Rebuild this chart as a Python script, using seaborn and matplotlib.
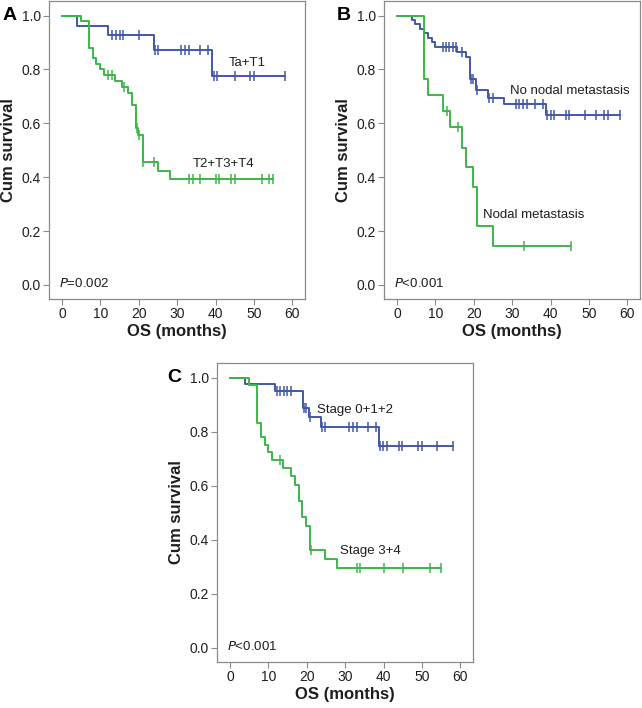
import numpy as np
import pandas as pd
import matplotlib
matplotlib.use('Agg')
import matplotlib.pyplot as plt
import matplotlib.transforms as mtransforms
import seaborn as sns

# Kaplan-Meier steps (event times, survival after event, censor times)
a_t1_times = [0, 4, 12, 24, 39]
a_t1_surv = [1.0, 0.962, 0.926, 0.871, 0.774]
a_t1_cens = [13, 14, 15, 16, 20, 24.2, 25, 31, 32, 33, 36, 38, 39.5, 40.5, 45, 49, 50, 58]

a_t234_times = [0, 5, 7.1, 8, 8.8, 9.8, 11, 13.8, 15.5, 17.3, 18.3, 19.2, 19.8, 21, 24.9, 28.1]
a_t234_surv = [1.0, 0.978, 0.881, 0.842, 0.820, 0.800, 0.778, 0.758, 0.736, 0.713,
               0.668, 0.582, 0.556, 0.455, 0.424, 0.394]
a_t234_cens = [12, 13, 16.1, 19.4, 20.1, 21.2, 24, 33, 34, 36, 40, 41, 44, 45, 52, 54, 55]

b_nonodal_times = [0, 4, 4.8, 6.1, 7.1, 8.1, 9, 10, 15.5, 18, 19, 20.6, 23.8, 27.8, 38.9]
b_nonodal_surv = [1.0, 0.985, 0.967, 0.951, 0.934, 0.918, 0.902, 0.885, 0.864, 0.845,
                  0.766, 0.722, 0.695, 0.670, 0.631]
b_nonodal_cens = [11.9, 12.8, 13.6, 14.5, 15.3, 16.8, 19.2, 19.8, 20.9, 24, 24.9, 31, 31.9,
                  32.9, 33.8, 35.9, 38.1, 39.1, 40.1, 40.9, 44, 44.9, 48.9, 51.9, 53.9, 54.9, 58]

b_nodal_times = [0, 7, 8, 12, 13.9, 16.9, 17.9, 19.9, 20.8, 25]
b_nodal_surv = [1.0, 0.765, 0.705, 0.647, 0.587, 0.510, 0.438, 0.364, 0.218, 0.145]
b_nodal_cens = [13.1, 16, 33, 45.2]

c_early_times = [0, 4, 11.7, 19, 20.6, 23.8, 38.9]
c_early_surv = [1.0, 0.975, 0.950, 0.889, 0.853, 0.816, 0.746]
c_early_cens = [12.2, 13.1, 14, 14.9, 16, 19.2, 19.9, 20.9, 24, 24.7, 31, 32, 33, 36, 38,
                39.1, 39.8, 40.8, 44, 44.9, 48.9, 50, 53.9, 58]

c_late_times = [0, 4.9, 7, 8, 9, 10, 10.9, 13.9, 16, 16.9, 17.9, 18.8, 19.9, 20.8, 24.8, 27.8]
c_late_surv = [1.0, 0.974, 0.833, 0.779, 0.752, 0.724, 0.696, 0.666, 0.635, 0.604,
               0.543, 0.483, 0.452, 0.361, 0.330, 0.297]
c_late_cens = [12.9, 21, 33, 33.9, 40, 45, 52, 55]

BLUE = '#4257a8'
GREEN = '#3db54a'
TXT = '#1e1e1e'

sns.set_style('white', {'axes.edgecolor': '#8a8a8a'})
plt.rcParams['font.family'] = ['Liberation Sans', 'DejaVu Sans']


def km_curve(ax, times, surv, cens, color):
    times = np.asarray(times, dtype=float)
    surv = np.asarray(surv, dtype=float)
    cens = np.asarray(cens, dtype=float)
    end = max(cens.max(), times.max())
    steps = pd.DataFrame({'t': np.append(times, end), 's': np.append(surv, surv[-1])})
    sns.lineplot(data=steps, x='t', y='s', drawstyle='steps-post', estimator=None,
                 sort=False, color=color, linewidth=1.4, ax=ax)
    idx = np.searchsorted(times, cens, side='right') - 1
    marks = pd.DataFrame({'t': cens, 's': surv[idx]})
    sns.scatterplot(data=marks, x='t', y='s', marker='|', s=45, linewidth=1.1,
                    color=color, ax=ax, zorder=3)


def style_axes(ax, letter, pval, letter_x):
    ax.set_xlim(-3.4, 63.3)
    ax.set_ylim(-0.052, 1.054)
    ax.set_xticks(np.arange(0, 61, 10))
    ax.set_yticks(np.arange(0, 1.01, 0.2))
    ax.set_yticklabels([f'{v:.1f}' for v in np.arange(0, 1.01, 0.2)])
    ax.tick_params(axis='both', which='both', direction='out', length=4, width=0.8,
                   color='#8a8a8a', labelsize=10, pad=2, bottom=True, left=True,
                   labelcolor=TXT)
    for sp in ax.spines.values():
        sp.set_linewidth(0.9)
    ax.set_xlabel('OS (months)', fontsize=12, fontweight='bold', labelpad=2, color=TXT)
    ax.set_ylabel('Cum survival', fontsize=12, fontweight='bold', labelpad=4, color=TXT)
    ax.text(-0.8, 0.005, '$\\it{P}$' + pval, fontsize=9.5, ha='left', va='center',
            color=TXT)
    trans = mtransforms.blended_transform_factory(ax.transAxes, ax.transData)
    ax.text(letter_x, 1.0, letter, transform=trans, fontsize=14, fontweight='bold',
            ha='left', va='center', color='black')


W, H = 642, 708
fig = plt.figure(figsize=(W / 100, H / 100), dpi=100)

ax_a = fig.add_axes([49 / W, 1 - 299 / H, 256 / W, 298 / H])
ax_b = fig.add_axes([384 / W, 1 - 299 / H, 256 / W, 298 / H])
ax_c = fig.add_axes([217 / W, 1 - 662 / H, 256 / W, 299 / H])

km_curve(ax_a, a_t1_times, a_t1_surv, a_t1_cens, BLUE)
km_curve(ax_a, a_t234_times, a_t234_surv, a_t234_cens, GREEN)
style_axes(ax_a, 'A', '=0.002', -0.18)
ax_a.text(43.5, 0.823, 'Ta+T1', fontsize=9.5, va='center', color=TXT)
ax_a.text(34, 0.448, 'T2+T3+T4', fontsize=9.5, va='center', color=TXT)

km_curve(ax_b, b_nonodal_times, b_nonodal_surv, b_nonodal_cens, BLUE)
km_curve(ax_b, b_nodal_times, b_nodal_surv, b_nodal_cens, GREEN)
style_axes(ax_b, 'B', '<0.001', -0.185)
ax_b.text(29.4, 0.72, 'No nodal metastasis', fontsize=9.5, va='center', color=TXT)
ax_b.text(22.5, 0.26, 'Nodal metastasis', fontsize=9.5, va='center', color=TXT)

km_curve(ax_c, c_early_times, c_early_surv, c_early_cens, BLUE)
km_curve(ax_c, c_late_times, c_late_surv, c_late_cens, GREEN)
style_axes(ax_c, 'C', '<0.001', -0.195)
ax_c.text(22.6, 0.88, 'Stage 0+1+2', fontsize=9.5, va='center', color=TXT)
ax_c.text(28.7, 0.358, 'Stage 3+4', fontsize=9.5, va='center', color=TXT)

fig.savefig('out.png', dpi=100)
